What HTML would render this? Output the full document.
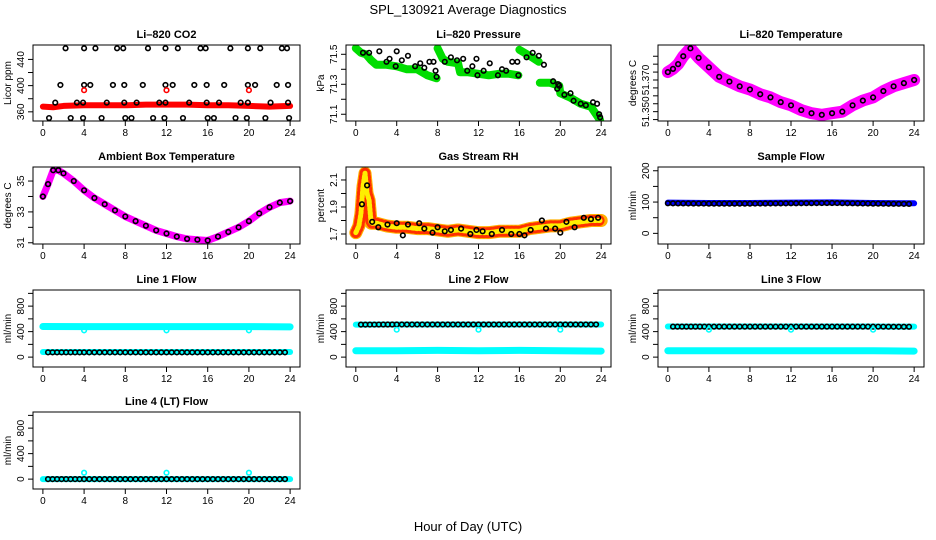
<!DOCTYPE html>
<html><head><meta charset="utf-8"><style>
body{margin:0;background:#fff}
svg{display:block;font-family:"Liberation Sans",Arial,sans-serif}
</style></head><body>
<svg id="chart" width="936" height="540" viewBox="0 0 936 540" xmlns="http://www.w3.org/2000/svg">
<rect width="936" height="540" fill="#fff"/>
<text x="468" y="14" text-anchor="middle" font-size="13">SPL_130921  Average Diagnostics</text>
<text x="468" y="531" text-anchor="middle" font-size="13">Hour of Day (UTC)</text>
</svg>
<script>
// ---------- data ----------
const xTicks=[0,4,8,12,16,20,24];
// CO2
const co2BandHours=[0,1,2,4,6,8,10,12,14,16,18,20,22,24];
const co2BandValues=[368,367,369,370,370,370,371,371,371,370,370,369,368,369];
const co2H457=[2.2,4.0,5.1,7.2,7.8,10.2,11.9,13.1,15.3,15.8,18.2,19.9,21.1,23.2,23.7];
const co2H401=[1.7,4.0,4.6,6.8,7.9,9.7,11.9,12.6,14.7,15.9,17.6,19.9,20.6,22.7,23.8];
const co2H374=[1.2,3.3,3.9,6.2,7.9,9.1,11.3,11.9,14.2,15.9,17.1,19.2,19.9,22.1,23.8];
const co2H350=[0.6,2.7,3.9,5.7,8.0,8.6,10.7,11.8,13.6,16.0,16.6,18.7,19.8,21.6,23.9];
const co2RedHours=[4,12,20];
const co2RedValues=[393,393,393];
// Pressure
const presSeg1H=[0,0.5,1,1.5,2,3,4,5,6,7,7.9];
const presSeg1V=[71.54,71.51,71.50,71.46,71.43,71.43,71.42,71.40,71.40,71.36,71.34];
const presSeg2H=[8,8.5,9,10,10.2,11,12,13,14,15,15.9];
const presSeg2V=[71.54,71.47,71.45,71.44,71.38,71.38,71.37,71.36,71.37,71.37,71.36];
const presSeg3H=[16,17,17.9];
const presSeg3V=[71.53,71.49,71.45];
const presSeg4H=[18,19,19.9,20,21,22,23,23.9];
const presSeg4V=[71.31,71.31,71.29,71.24,71.21,71.17,71.15,71.06];
const presPtH=[0.7,1.3,2.3,3,3.3,3.9,4,4.5,5.1,5.8,6.3,6.7,7.2,7.6,7.8,7.9,8.7,9.3,9.9,10.5,10.9,11.4,11.8,11.9,12.5,13.1,13.9,14.3,14.7,15.3,15.8,15.9,16.7,17.3,17.9,18.4,19.3,19.7,19.8,19.9,20.4,21,21.3,22,22.5,23.2,23.6,23.8,23.9];
const presPtV=[71.51,71.51,71.52,71.45,71.47,71.42,71.52,71.46,71.49,71.42,71.44,71.41,71.45,71.45,71.39,71.35,71.45,71.48,71.46,71.47,71.39,71.42,71.47,71.36,71.39,71.44,71.36,71.40,71.39,71.45,71.45,71.36,71.48,71.51,71.49,71.43,71.32,71.27,71.30,71.29,71.23,71.24,71.19,71.17,71.16,71.18,71.17,71.10,71.08];
// Li-820 temperature
const ltH=[0,0.5,1,1.5,2.2,3,4,5,6,7,8,9,10,11,12,13,14,15,16,17,18,19,20,21,22,23,24];
const ltV=[51.375,51.377,51.380,51.385,51.390,51.384,51.378,51.372,51.369,51.366,51.364,51.361,51.359,51.356,51.354,51.351,51.349,51.348,51.349,51.350,51.354,51.357,51.359,51.363,51.366,51.368,51.370];
// Ambient box temperature
const abH=[0,0.5,1,1.5,2,3,4,5,6,7,8,9,10,11,12,13,14,15,16,17,18,19,20,21,22,23,24];
const abV=[34.0,34.8,35.7,35.7,35.5,35.0,34.4,33.9,33.5,33.1,32.7,32.4,32.1,31.8,31.6,31.4,31.25,31.2,31.15,31.4,31.7,32.0,32.4,32.9,33.3,33.6,33.7];
// Gas stream RH
const rhH=[0,0.3,0.5,0.7,0.9,1.1,1.3,1.5,2,3,4,5,6,7,8,9,10,11,12,13,14,15,16,17,18,19,20,21,22,23,24];
const rhV=[1.71,1.76,1.85,2.05,2.15,2.00,1.95,1.78,1.78,1.76,1.75,1.75,1.74,1.74,1.73,1.72,1.73,1.72,1.71,1.71,1.72,1.72,1.72,1.74,1.75,1.76,1.76,1.78,1.79,1.80,1.80];
const rhPtH=[0.6,1.1,1.6,2.2,3.1,4,4.6,5.1,6.2,6.7,7.5,8,8.7,9.3,10.3,11.2,11.8,12.4,13.3,14.3,15.2,16,16.5,17.1,18.2,18.6,19.5,20,20.6,21.4,22.3,23,23.7];
const rhPtV=[1.92,2.06,1.79,1.75,1.77,1.78,1.69,1.77,1.78,1.74,1.71,1.75,1.72,1.73,1.74,1.70,1.73,1.72,1.70,1.73,1.70,1.70,1.69,1.73,1.80,1.74,1.74,1.71,1.79,1.75,1.82,1.81,1.82];
// Flows
const flowH=[0,4,8,12,16,20,24];
const sampleBlue=[98,97,97,98,99,97,96];
const sampleBlack=[96,95,95,96,97,95,94];
const line1High=[480,478,478,478,478,478,475];
const line1Low=[80,80,80,80,80,80,80];
const line1Black=[75,75,75,75,75,75,75];
const line2High=[510,512,512,512,512,512,512];
const line2Low=[100,100,105,100,105,100,95];
const line2Black=[510,512,512,512,512,512,512];
const line3High=[480,480,480,480,480,480,478];
const line3Low=[100,100,100,100,100,100,95];
const line3Black=[478,478,478,478,478,478,476];
const line4Cyan=[0,0,0,0,0,0,0];
const line4Black=[0,0,0,0,0,0,0];
const dipHours=[4,12,20];
const line1Dip=[420,420,420];
const line2Dip=[430,430,430];
const line3Dip=[430,430,430];
const line4Dip=[100,100,100];

// ---------- drawing ----------
const svg=document.getElementById('chart');
const NS='http://www.w3.org/2000/svg';
const cols=[[33,300],[346,611],[658,924]];
const rows=[[45,121],[167,244],[290,367],[412,489]];
function mk(tag,attrs,parent){const e=document.createElementNS(NS,tag);for(const k in attrs)e.setAttribute(k,attrs[k]);(parent||svg).appendChild(e);return e;}
function panel(name,c,r,title,ylab,yMin,yMax,yTicks,yLabels,yLabelText){
  const [x0,x1]=cols[c],[y0,y1]=rows[r];
  const g=mk('g',{});
  
  
  const xs=h=>x0+(h+0.96)/25.92*(x1-x0);
  const ys=v=>y1-(v-yMin)/(yMax-yMin)*(y1-y0);
  const t=mk('text',{x:(x0+x1)/2,y:y0-7,'text-anchor':'middle','font-size':'11','font-weight':'bold'},g);t.textContent=title;
  
  
  const plot=mk('g',{},g);
  const fr=mk('rect',{x:x0,y:y0,width:x1-x0,height:y1-y0,fill:'none',stroke:'#000','stroke-width':1},g);
  
  
  const ax=mk('g',{},g);
  
  
  mk('line',{x1:xs(0),x2:xs(24),y1:y1,y2:y1,stroke:'#000'},ax);
  xTicks.forEach(h=>{mk('line',{x1:xs(h),x2:xs(h),y1:y1,y2:y1+5,stroke:'#000'},ax);
    const l=mk('text',{x:xs(h),y:y1+15,'text-anchor':'middle','font-size':'10'},ax);l.textContent=h;});
  mk('rect',{x:xs(12)+1,y:y1+13,width:1,height:1,fill:'#000'},ax);
  const ay=mk('g',{},g);
  
  
  mk('line',{x1:x0,x2:x0,y1:ys(yTicks[0]),y2:ys(yTicks[yTicks.length-1]),stroke:'#000'},ay);
  yTicks.forEach(v=>mk('line',{x1:x0-5,x2:x0,y1:ys(v),y2:ys(v),stroke:'#000'},ay));
  yLabels.forEach((v,i)=>{const yy=ys(v);const l=mk('text',{x:x0-9,y:yy,'text-anchor':'middle','font-size':'10',transform:`rotate(-90 ${x0-9} ${yy})`},ay);l.textContent=yLabelText[i];});
  const yt=mk('text',{x:x0-22,y:(y0+y1)/2,'text-anchor':'middle','font-size':'10',transform:`rotate(-90 ${x0-22} ${(y0+y1)/2})`},g);yt.textContent=ylab;
  
  
  const clipId='clip'+c+r;
  const cp=mk('clipPath',{id:clipId},svg);mk('rect',{x:x0,y:y0,width:x1-x0,height:y1-y0},cp);
  plot.setAttribute('clip-path',`url(#${clipId})`);
  return {xs,ys,plot};
}
function band(P,H,V,color,w,name,dash){
  const pl=mk('polyline',{points:H.map((h,i)=>P.xs(h)+','+P.ys(V[i])).join(' '),fill:'none',stroke:color,'stroke-width':w,'stroke-linejoin':'round','stroke-linecap':'round'},P.plot);
  if(dash)pl.setAttribute('stroke-dasharray',dash);
  
  
}
function pts(P,H,V,color,name){
  const g=mk('g',{},P.plot);
  
  
  H.forEach((h,i)=>mk('circle',{cx:P.xs(h),cy:P.ys(V[i]),r:2.3,fill:'none',stroke:color,'stroke-width':1.6},g));
}
function denseLine(P,H,V,color,name){
  const g=mk('g',{},P.plot);
  
  
  for(let i=0;i<H.length-1;i++){for(let s=0;s<8;s++){const f=s/8;const h=H[i]+(H[i+1]-H[i])*f;const v=V[i]+(V[i+1]-V[i])*f;
    mk('circle',{cx:P.xs(h),cy:P.ys(v),r:2.3,fill:'none',stroke:color,'stroke-width':1.6},g);}}
}

// CO2
let P=panel('co2',0,0,'Li\u2013820 CO2','Licor ppm',346,462,[360,380,400,420,440],[360,400,440],['360','400','440']);
band(P,co2BandHours,co2BandValues,'#ff0000',6,'co2-red-series');
pts(P,co2H457,co2H457.map(()=>457),'#000','co2-points-457');
pts(P,co2H401,co2H401.map(()=>401),'#000','co2-points-401');
pts(P,co2H374,co2H374.map(()=>374),'#000','co2-points-374');
pts(P,co2H350,co2H350.map(()=>350.5),'#000','co2-points-350');
pts(P,co2RedHours,co2RedValues,'#ff0000','co2-red-points');
// Pressure
P=panel('pressure',1,0,'Li\u2013820 Pressure','kPa',71.055,71.562,[71.1,71.2,71.3,71.4,71.5],[71.1,71.3,71.5],['71.1','71.3','71.5']);
band(P,presSeg1H,presSeg1V,'#00dd00',8,'pressure-green-1');
band(P,presSeg2H,presSeg2V,'#00dd00',8,'pressure-green-2');
band(P,presSeg3H,presSeg3V,'#00dd00',8,'pressure-green-3');
band(P,presSeg4H,presSeg4V,'#00dd00',8,'pressure-green-4');
pts(P,presPtH,presPtV,'#000','pressure-black-points');
// Li-820 temperature
P=panel('li820-temp',2,0,'Li\u2013820 Temperature','degrees C',51.3441,51.3921,[51.345,51.350,51.355,51.360,51.365,51.370,51.375,51.380,51.385],[51.350,51.370],['51.350','51.370']);
band(P,ltH,ltV,'#ff00ff',12,'li820-temp-magenta');
pts(P,ltH,ltV,'#000','li820-temp-black-points');
// Ambient box
P=panel('ambient-temp',0,1,'Ambient Box Temperature','degrees C',30.92,35.91,[31,32,33,34,35],[31,33,35],['31','33','35']);
band(P,abH,abV,'#ff00ff',7,'ambient-magenta');
pts(P,abH,abV,'#000','ambient-black-points');
// RH
P=panel('rh',1,1,'Gas Stream RH','percent',1.626,2.196,[1.7,1.8,1.9,2.0,2.1],[1.7,1.9,2.1],['1.7','1.9','2.1']);
band(P,rhH,rhV,'#ffb000',13,'rh-orange-band');
band(P,rhH,rhV,'#ff3000',11,'rh-red-speckle','1 3');
band(P,rhH,rhV,'#ffee00',5,'rh-yellow-core','2 2');
pts(P,rhPtH,rhPtV,'#000','rh-black-points');
// Sample flow
P=panel('sample-flow',2,1,'Sample Flow','ml/min',-34,212,[0,50,100,150,200],[0,100,200],['0','100','200']);
band(P,flowH,sampleBlue,'#0000ff',6,'sample-blue-series');
denseLine(P,flowH,sampleBlack,'#000','sample-black-series');
const flowTicks=[0,200,400,600,800,1000],flowLab=[0,400,800],flowLabT=['0','400','800'];
// Line 1
P=panel('line1',0,2,'Line 1 Flow','ml/min',-155,1053,flowTicks,flowLab,flowLabT);
band(P,flowH,line1High,'#00ffff',7,'line1-cyan-high');
band(P,flowH,line1Low,'#00ffff',6,'line1-cyan-low');
denseLine(P,flowH.map(h=>h<0.5?0.5:h),line1Black,'#000','line1-black-series');
pts(P,dipHours,line1Dip,'#00ffff','line1-dips');
// Line 2
P=panel('line2',1,2,'Line 2 Flow','ml/min',-155,1053,flowTicks,flowLab,flowLabT);
band(P,flowH,line2High,'#00ffff',6,'line2-cyan-high');
band(P,flowH,line2Low,'#00ffff',7,'line2-cyan-low');
denseLine(P,flowH.map(h=>h<0.5?0.5:h),line2Black,'#000','line2-black-series');
pts(P,dipHours,line2Dip,'#00ffff','line2-dips');
// Line 3
P=panel('line3',2,2,'Line 3 Flow','ml/min',-155,1053,flowTicks,flowLab,flowLabT);
band(P,flowH,line3High,'#00ffff',6,'line3-cyan-high');
band(P,flowH,line3Low,'#00ffff',7,'line3-cyan-low');
denseLine(P,flowH.map(h=>h<0.5?0.5:h),line3Black,'#000','line3-black-series');
pts(P,dipHours,line3Dip,'#00ffff','line3-dips');
// Line 4
P=panel('line4',0,3,'Line 4 (LT) Flow','ml/min',-155,1053,flowTicks,flowLab,flowLabT);
band(P,flowH,line4Cyan,'#00ffff',6,'line4-cyan');
denseLine(P,flowH.map(h=>h<0.5?0.5:h),line4Black,'#000','line4-black-series');
pts(P,dipHours,line4Dip,'#00ffff','line4-dips');
</script>
</body></html>
